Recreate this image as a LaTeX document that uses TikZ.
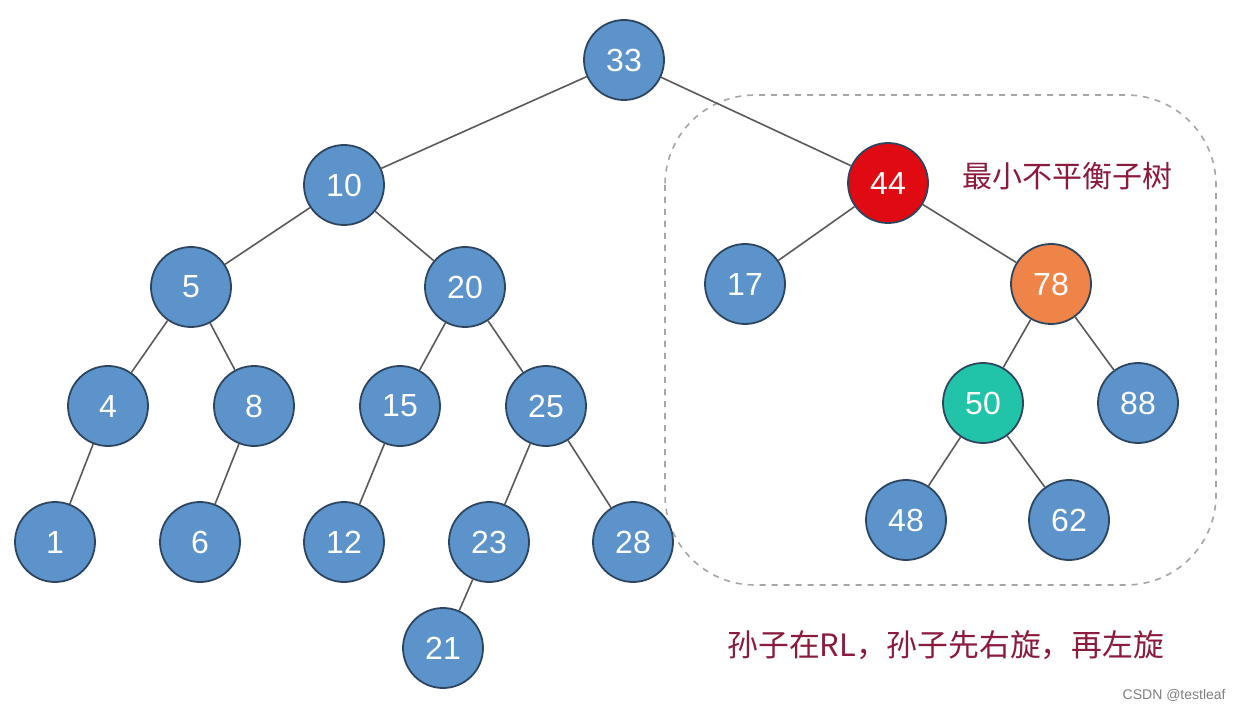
\documentclass[tikz,border=0pt]{standalone}
\usepackage{fontspec}
\setmainfont{Liberation Sans}
\newfontfamily\cjk{Noto Sans CJK SC}
\definecolor{nblue}{HTML}{5B93CA}
\definecolor{nborder}{HTML}{2E4560}
\definecolor{nred}{HTML}{E00A12}
\definecolor{norange}{HTML}{EE8448}
\definecolor{nteal}{HTML}{22C4A9}
\definecolor{tred}{HTML}{8A1B3C}
\definecolor{edgec}{HTML}{5A5A5A}
\begin{document}
\begin{tikzpicture}[x=0.5pt,y=-0.5pt,
  tn/.style={circle,draw=nborder,line width=0.9pt,fill=nblue,minimum size=40pt,inner sep=0pt,text=white,font=\fontsize{16}{18}\selectfont},
  edge/.style={draw=edgec,line width=0.8pt}]
\fill[white] (0,0) rectangle (1234,710);
\useasboundingbox (0,0) rectangle (1234,710);
\draw[gray!70,dashed,line width=0.8pt,dash pattern=on 3pt off 3pt,rounded corners=45pt] (665,95) rectangle (1216,585);
\node[tn] (n33) at (624,60) {33};
\node[tn] (n10) at (344,185) {10};
\node[tn,fill=nred] (n44) at (888,183) {44};
\node[tn] (n5) at (191,287) {5};
\node[tn] (n20) at (465,287) {20};
\node[tn] (n17) at (745,284) {17};
\node[tn,fill=norange] (n78) at (1051,284) {78};
\node[tn] (n4) at (108,406) {4};
\node[tn] (n8) at (254,406) {8};
\node[tn] (n15) at (400,406) {15};
\node[tn] (n25) at (546,406) {25};
\node[tn,fill=nteal] (n50) at (983,403) {50};
\node[tn] (n88) at (1138,403) {88};
\node[tn] (n1) at (55,542) {1};
\node[tn] (n6) at (200,542) {6};
\node[tn] (n12) at (344,542) {12};
\node[tn] (n23) at (489,542) {23};
\node[tn] (n28) at (633,542) {28};
\node[tn] (n48) at (906,520) {48};
\node[tn] (n62) at (1069,520) {62};
\node[tn] (n21) at (443,648) {21};
\foreach \a/\b in {n33/n10,n33/n44,n10/n5,n10/n20,n44/n17,n44/n78,n5/n4,n5/n8,n20/n15,n20/n25,n78/n50,n78/n88,n4/n1,n8/n6,n15/n12,n25/n23,n25/n28,n50/n48,n50/n62,n23/n21}
  \draw[edge] (\a) -- (\b);
\node[text=tred,font=\cjk\fontsize{15}{17}\selectfont,anchor=west,inner sep=0pt] (t1) at (962,176) {最小不平衡子树};
\node[text=tred,font=\cjk\fontsize{15.4}{17}\selectfont,anchor=west,inner sep=0pt] (t2) at (727,645) {孙子在RL，孙子先右旋，再左旋};
\node[text=gray,font=\fontsize{7}{8}\selectfont,anchor=east,inner sep=0pt] (t3) at (1226,695) {CSDN @testleaf};
\end{tikzpicture}
\end{document}
